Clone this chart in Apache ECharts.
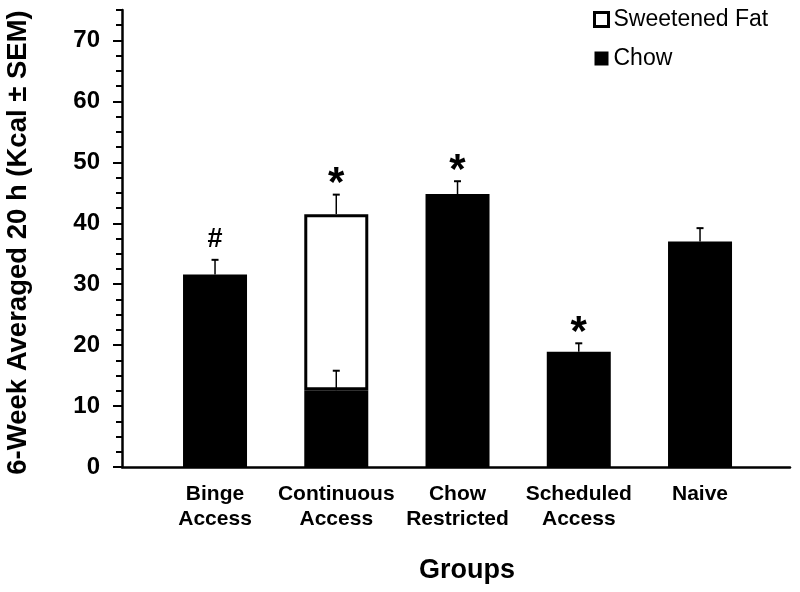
<!DOCTYPE html>
<html>
<head>
<meta charset="utf-8">
<script src="https://cdn.jsdelivr.net/npm/echarts@6/dist/echarts.min.js"></script>
<style>html,body{margin:0;padding:0;background:#fff}#c{width:800px;height:592px}</style>
</head>
<body>
<div id="c"></div>
<script>
const categories = ['Binge\nAccess', 'Continuous\nAccess', 'Chow\nRestricted', 'Scheduled\nAccess', 'Naive'];
const chowValues = [31.6, 12.6, 44.8, 18.9, 37.0];
const chowSem = [2.4, 3.2, 2.1, 1.4, 2.2];
const fatValues = [null, 28.9, null, null, null];
const fatSem = [null, 3.2, null, null, null];
const significance = ['#', '*', '*', '*', ''];
const yTicks = [0, 10, 20, 30, 40, 50, 60, 70];

const FONT = 'Liberation Sans, Arial, sans-serif';

const chowErr = chowValues.map((v, i) => [i, v, v + chowSem[i]]);
const fatErr = fatValues.map((v, i) => v == null ? null : [i, chowValues[i] + v, chowValues[i] + v + fatSem[i]]).filter(d => d);
const markData = significance.map((s, i) => {
  let top = chowValues[i] + chowSem[i];
  if (fatValues[i] != null) top = chowValues[i] + fatValues[i] + fatSem[i];
  return [i, top, s];
});

function errRender(params, api) {
  const x = api.coord([api.value(0), api.value(1)]);
  const t = api.coord([api.value(0), api.value(2)]);
  return {
    type: 'group',
    children: [
      { type: 'line', shape: { x1: x[0], y1: x[1], x2: t[0], y2: t[1] }, style: { stroke: '#000', lineWidth: 1.5 } },
      { type: 'line', shape: { x1: t[0] - 3.5, y1: t[1], x2: t[0] + 3.5, y2: t[1] }, style: { stroke: '#000', lineWidth: 2 } }
    ]
  };
}

const chart = echarts.init(document.getElementById('c'), null, { renderer: 'canvas' });
chart.setOption({
  animation: false,
  backgroundColor: '#fff',
  textStyle: { fontFamily: FONT, color: '#000' },
  grid: [
    { left: 122, right: 10, top: 10, bottom: 125, outerBoundsMode: 'none', containLabel: false },
    { left: 154.4, width: 606.25, top: 10, bottom: 125, outerBoundsMode: 'none', containLabel: false }
  ],
  legend: {
    orient: 'vertical',
    left: 588,
    top: 3,
    itemWidth: 14,
    itemHeight: 14,
    itemGap: 16,
    icon: 'rect',
    textStyle: { fontSize: 23, lineHeight: 23, color: '#000', fontFamily: FONT },
    data: [
      { name: 'Sweetened Fat', itemStyle: { color: '#fff', borderColor: '#000', borderWidth: 3 } },
      { name: 'Chow', itemStyle: { color: '#000', borderWidth: 0 } }
    ]
  },
  xAxis: [
    {
      type: 'value', gridIndex: 0, min: 0, max: 1,
      axisLine: { show: true, lineStyle: { color: '#000', width: 2.5 } },
      axisTick: { show: false }, axisLabel: { show: false }, splitLine: { show: false },
      name: 'Groups', nameLocation: 'middle', nameGap: 90,
      nameTextStyle: { fontSize: 27, fontWeight: 'bold', color: '#000', fontFamily: FONT, padding: [0, 0, 0, 22] }
    },
    {
      type: 'category', gridIndex: 1, data: categories,
      axisLine: { show: false }, axisTick: { show: false }, splitLine: { show: false },
      axisLabel: { interval: 0, fontSize: 21, fontWeight: 'bold', color: '#000', fontFamily: FONT, lineHeight: 25, margin: 15 }
    }
  ],
  yAxis: [
    {
      type: 'value', gridIndex: 0, min: 0, max: 75, interval: 2.5,
      axisLine: { show: true, lineStyle: { color: '#000', width: 2.5 } },
      axisTick: { show: true, length: 6, lineStyle: { color: '#000', width: 2 } },
      splitLine: { show: false },
      axisLabel: {
        fontSize: 24, fontWeight: 'bold', color: '#000', fontFamily: FONT, margin: 22,
        formatter: v => yTicks.indexOf(v) >= 0 ? String(v) : ''
      },
      name: '6-Week Averaged 20 h (Kcal ± SEM)', nameLocation: 'middle', nameRotate: 90, nameGap: 90,
      nameTextStyle: { fontSize: 27.5, fontWeight: 'bold', color: '#000', fontFamily: FONT, padding: [0, 8, 0, 0] }
    },
    { type: 'value', gridIndex: 1, min: 0, max: 75, show: false },
    {
      type: 'value', gridIndex: 0, min: 0, max: 75, interval: 10, position: 'left',
      axisLine: { show: false }, axisLabel: { show: false }, splitLine: { show: false },
      axisTick: { show: true, length: 9, customValues: yTicks, lineStyle: { color: '#000', width: 2 } }
    }
  ],
  series: [
    {
      name: 'Chow', type: 'bar', xAxisIndex: 1, yAxisIndex: 1, stack: 'total',
      barWidth: 64, data: chowValues,
      itemStyle: { color: '#000' }
    },
    {
      name: 'Sweetened Fat', type: 'bar', xAxisIndex: 1, yAxisIndex: 1, stack: 'total',
      barWidth: 64, data: fatValues,
      itemStyle: { color: '#fff', borderColor: '#000', borderWidth: 3 }
    },
    {
      type: 'custom', xAxisIndex: 1, yAxisIndex: 1, data: chowErr, renderItem: errRender, z: 5, silent: true
    },
    {
      type: 'custom', xAxisIndex: 1, yAxisIndex: 1, data: fatErr, renderItem: errRender, z: 5, silent: true
    },
    {
      type: 'custom', xAxisIndex: 1, yAxisIndex: 1, data: markData, z: 6, silent: true,
      renderItem: function (params, api) {
        const p = api.coord([api.value(0), api.value(1)]);
        const s = markData[params.dataIndex][2];
        const isStar = s === '*';
        return {
          type: 'text',
          style: {
            text: s, x: p[0], y: p[1] + (isStar ? 11 : -7),
            align: 'center', verticalAlign: 'bottom',
            fontSize: isStar ? 42 : 27, fontWeight: 'bold', fontFamily: FONT, fill: '#000'
          }
        };
      }
    }
  ]
});
</script>
</body>
</html>
